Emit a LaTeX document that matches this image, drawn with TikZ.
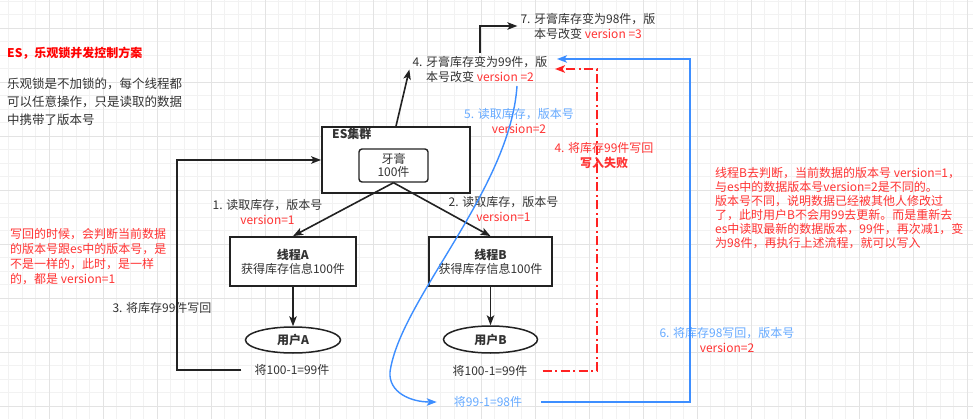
\documentclass[tikz,border=0pt]{standalone}
\usepackage{fontspec}
\setmainfont{Noto Sans CJK SC}
\usetikzlibrary{arrows.meta,calc,shapes.geometric}
\definecolor{txtc}{HTML}{333333}
\definecolor{linec}{HTML}{222222}
\definecolor{redt}{HTML}{FF3333}
\definecolor{redtitle}{HTML}{FF0000}
\definecolor{redline}{HTML}{FF2222}
\definecolor{bluet}{HTML}{66AAFF}
\definecolor{bluel}{HTML}{3D8EFF}
\definecolor{gminorc}{HTML}{F2F2F2}
\definecolor{gmajorc}{HTML}{E3E3E3}
\tikzset{
  gminor/.style={draw=gminorc,line width=0.8pt},
  gmajor/.style={draw=gmajorc,line width=0.9pt},
  lbl/.style={text=txtc,font=\fontsize{12}{15}\selectfont,align=center,inner sep=3pt},
  boxs/.style={draw=linec,fill=white,line width=1.8pt,text=txtc,font=\fontsize{12}{15}\selectfont,align=center},
  ubox/.style={ellipse,draw=linec,fill=white,line width=1.5pt,text=txtc,font=\fontsize{12}{15}\selectfont\bfseries,inner sep=0pt},
  tip/.style={-{Stealth[length=10pt,width=7.5pt,inset=2.5pt]}},
  darrow/.style={draw=linec,line width=1.6pt,tip},
  bline/.style={draw=bluel,line width=1.4pt,tip},
  rline/.style={draw=redline,line width=1.8pt,dash pattern=on 9pt off 3.5pt on 2pt off 3.5pt,tip},
}
\begin{document}
\begin{tikzpicture}[x=1pt,y=-1pt]
\useasboundingbox (0,0) rectangle (973,419);
\fill[white] (0,0) rectangle (973,419);
% grid
\foreach \i in {0,...,71} \draw[gminor] ({8.8+13.5*\i},0) -- ({8.8+13.5*\i},419);
\foreach \j in {0,...,31} \draw[gminor] (0,{1.3+13.5*\j}) -- (973,{1.3+13.5*\j});
\foreach \i in {0,...,17} \draw[gmajor] ({49.3+54*\i},0) -- ({49.3+54*\i},419);
\foreach \j in {0,...,7} \draw[gmajor] (0,{28.3+54*\j}) -- (973,{28.3+54*\j});

% left texts
\node[anchor=west,text=redtitle,font=\fontsize{12}{15}\selectfont\bfseries,inner sep=3pt] (title) at (4,53) {ES，乐观锁并发控制方案};
\node[anchor=west,text=txtc,font=\fontsize{12.5}{18}\selectfont,align=left,inner sep=3pt] (intro) at (4,101.5) {乐观锁是不加锁的，每个线程都\\可以任意操作，只是读取的数据\\中携带了版本号};
\node[anchor=west,text=redt,font=\fontsize{12}{15}\selectfont,align=left,inner sep=3pt] (note) at (7,257) {写回的时候，会判断当前数据\\的版本号跟es中的版本号，是\\不是一样的，此时，是一样\\的，都是 version=1};
\node[lbl] (l3) at (162,308) {3. 将库存99件写回};

% ES cluster
\node[boxs,minimum width=148pt,minimum height=66pt] (ES) at (396,160) {};
\node[anchor=west,text=txtc,font=\fontsize{12}{15}\selectfont\bfseries,inner sep=3pt] (ESl) at (329,134) {ES集群};
\node[boxs,rounded corners=3pt,line width=1.4pt,minimum width=69pt,minimum height=33pt,font=\fontsize{12}{13.5}\selectfont,inner sep=1pt] (inner) at (393.5,165.5) {牙膏\\100件};

% threads
\node[boxs,minimum width=126pt,minimum height=49pt,font=\fontsize{12}{14}\selectfont,inner sep=1pt] (A) at (293,261.5) {\textbf{线程A}\\获得库存信息100件};
\node[boxs,minimum width=123pt,minimum height=49pt,font=\fontsize{12}{14}\selectfont,inner sep=1pt] (B) at (490.5,261.5) {\textbf{线程B}\\获得库存信息100件};
\node[ubox,minimum width=95pt,minimum height=26pt] (uA) at (293,340) {用户A};
\node[ubox,minimum width=94pt,minimum height=27pt] (uB) at (490.5,339.5) {用户B};

\node[lbl] (tA99) at (292,370) {将100-1=99件};
\node[lbl] (tB99) at (490,371) {将100-1=99件};
\node[lbl,text=bluet] (t98) at (488,402) {将99-1=98件};

% labels
\node[lbl] (l1) at (267.5,212) {1. 读取库存，版本号\\\textcolor{redt}{version=1}};
\node[lbl] (l2) at (503.5,209) {2. 读取库存，版本号\\\textcolor{redt}{version=1}};
\node[lbl] (t4) at (480,69.5) {4. 牙膏库存变为99件，版\\本号改变 \textcolor{redt}{version =2}};
\node[lbl] (t7) at (588,26) {7. 牙膏库存变为98件，版\\本号改变 \textcolor{redt}{version =3}};
\node[lbl,text=bluet] (l5) at (519,121) {5. 读取库存，版本号\\\textcolor{redt}{version=2}};
\node[lbl,text=redt] (l4f) at (604,156) {4. 将库存99件写回\\\textbf{写入失败}};
\node[lbl,text=bluet] (l6) at (727,340) {6. 将库存98写回，版本号\\\textcolor{redt}{version=2}};
\node[anchor=west,text=redt,font=\fontsize{12}{14}\selectfont,align=left,inner sep=3pt] (right) at (712,208.5) {线程B去判断，当前数据的版本号 version=1，\\与es中的数据版本号version=2是不同的。\\版本号不同，说明数据已经被其他人修改过\\了，此时用户B不会用99去更新。而是重新去\\es中读取最新的数据版本，99件，再次减1，变\\为98件，再执行上述流程，就可以写入};

% coordinates
\coordinate (lc) at (177,160);
\coordinate (rc) at (597,69);
\coordinate (bc) at (690,59);
\coordinate (bIn) at (557,59);
\coordinate (rIn) at (555,69);
\coordinate (c5) at (517,86);

% connectors
\draw[darrow] (inner.south) -- (A.north);
\draw[darrow] (inner.south) -- (B.north);
\draw[darrow] (A.south) -- (uA.north);
\draw[darrow] (B.south) -- (uB.north);
\draw[darrow] ($(tA99.west)+(-10,0)$) -| (lc) -- (ES.west);
\draw[darrow] (ES.north) -- (t4.west);
\draw[darrow] (t4.north) |- (t7.west);
\draw[rline] ($(tB99.east)+(12,0)$) -| (rc) -- (rIn);
\draw[bline] ($(t98.east)+(16,0)$) -| (bc) -- (bIn);
\draw[bline] (c5) .. controls (510,190) and (400,300) .. (390,372) .. controls (388.5,392) and (410,402) .. ($(t98.west)+(-14,0)$);
\end{tikzpicture}
\end{document}
